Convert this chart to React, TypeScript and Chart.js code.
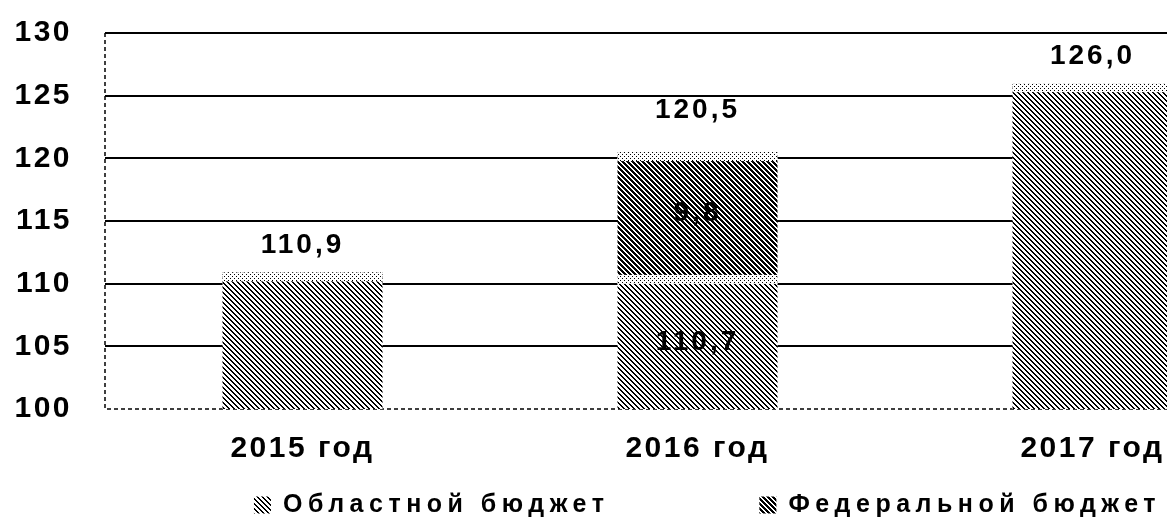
import { useEffect, useRef } from 'react';
import { Chart, registerables } from 'chart.js';

Chart.register(...registerables);

// ---- data ----
const categories: string[] = ['2015 год', '2016 год', '2017 год'];
const regionalValues: number[] = [110.9, 110.7, 126.0];
const federalValues: number[] = [0, 9.8, 0];
const seriesLabels: string[] = ['Областной бюджет', 'Федеральной бюджет'];
const yMin = 100;
const yMax = 130;
const yStep = 5;

const FONT = '"Liberation Sans", Arial, sans-serif';

const fmt = (v: number) => v.toFixed(1).replace('.', ',');

function stripePattern(period: number, ink: number): CanvasPattern {
  const c = document.createElement('canvas');
  c.width = period;
  c.height = period;
  const g = c.getContext('2d')!;
  const img = g.createImageData(period, period);
  for (let y = 0; y < period; y++) {
    for (let x = 0; x < period; x++) {
      const k = (((x - y) % period) + period) % period;
      const v = k < ink ? 0 : 255;
      const i = (y * period + x) * 4;
      img.data[i] = v;
      img.data[i + 1] = v;
      img.data[i + 2] = v;
      img.data[i + 3] = 255;
    }
  }
  g.putImageData(img, 0, 0);
  return g.createPattern(c, 'repeat')!;
}

function dotPattern(): CanvasPattern {
  const n = 4;
  const c = document.createElement('canvas');
  c.width = n;
  c.height = n;
  const g = c.getContext('2d')!;
  g.fillStyle = '#fff';
  g.fillRect(0, 0, n, n);
  g.fillStyle = '#000';
  g.fillRect(0, 0, 1, 1);
  g.fillRect(2, 2, 1, 1);
  return g.createPattern(c, 'repeat')!;
}

const spacingPlugin = {
  id: 'spacing',
  beforeLayout(chart: any) {
    chart.ctx.letterSpacing = '2.5px';
  },
  beforeDraw(chart: any) {
    chart.ctx.letterSpacing = '2.5px';
  },
};

// dashed axis lines (left and bottom edges of the plot area)
const dashedAxesPlugin = {
  id: 'dashedAxes',
  beforeDatasetsDraw(chart: any) {
    const ctx = chart.ctx as CanvasRenderingContext2D;
    const a = chart.chartArea;
    ctx.save();
    ctx.strokeStyle = '#000';
    ctx.lineWidth = 1.5;
    ctx.setLineDash([4, 3]);
    ctx.beginPath();
    ctx.moveTo(a.left, a.top);
    ctx.lineTo(a.left, a.bottom);
    ctx.lineTo(a.right, a.bottom);
    ctx.stroke();
    ctx.restore();
  },
};

function makeBandPlugin(dots: CanvasPattern) {
  return {
    id: 'topBand',
    afterDatasetsDraw(chart: any) {
      const ctx = chart.ctx as CanvasRenderingContext2D;
      const area = chart.chartArea;
      ctx.save();
      ctx.beginPath();
      ctx.rect(area.left, area.top, area.right - area.left, area.bottom - area.top);
      ctx.clip();
      chart.data.datasets.forEach((ds: any, di: number) => {
        const meta = chart.getDatasetMeta(di);
        meta.data.forEach((el: any, i: number) => {
          const v = ds.data[i];
          if (!v) return;
          const top = Math.min(el.y, el.base);
          const h = Math.min(9, Math.abs(el.base - el.y));
          ctx.fillStyle = dots;
          ctx.fillRect(el.x - el.width / 2, top, el.width, h);
        });
      });
      ctx.restore();
    },
  };
}

const labelPlugin = {
  id: 'valueLabels',
  afterDatasetsDraw(chart: any) {
    const ctx = chart.ctx as CanvasRenderingContext2D;
    const area = chart.chartArea;
    const yScale = chart.scales.y;
    ctx.save();
    ctx.font = `bold 28px ${FONT}`;
    (ctx as any).letterSpacing = '3px';
    ctx.fillStyle = '#000';
    ctx.textAlign = 'center';
    ctx.textBaseline = 'middle';
    categories.forEach((_, i) => {
      const segs = chart.data.datasets
        .map((ds: any, di: number) => ({ v: ds.data[i] as number, el: chart.getDatasetMeta(di).data[i] }))
        .filter((s: any) => s.v > 0);
      if (!segs.length) return;
      const total = segs.reduce((a: number, s: any) => a + s.v, 0);
      const x = segs[0].el.x;
      const topY = yScale.getPixelForValue(total);
      const lift = segs.length > 1 ? 42 : 27;
      ctx.fillText(fmt(total), x, topY - lift);
      if (segs.length > 1) {
        segs.forEach((s: any) => {
          const t = Math.max(area.top, Math.min(s.el.y, s.el.base));
          const b = Math.min(area.bottom, Math.max(s.el.y, s.el.base));
          ctx.fillText(fmt(s.v), x, (t + b) / 2);
        });
      }
    });
    ctx.restore();
  },
};

const legendPlugin = {
  id: 'customLegend',
  afterDraw(chart: any) {
    const ctx = chart.ctx as CanvasRenderingContext2D;
    const area = chart.chartArea;
    ctx.save();
    ctx.font = `bold 25px ${FONT}`;
    (ctx as any).letterSpacing = '5.5px';
    ctx.textBaseline = 'middle';
    ctx.textAlign = 'left';
    const box = 17;
    const gapText = 12;
    const gapItems = 150;
    const items = chart.data.datasets.map((ds: any) => ({
      label: ds.label as string,
      fill: ds.backgroundColor,
      w: box + gapText + ctx.measureText(ds.label).width,
    }));
    const total = items.reduce((a: number, it: any) => a + it.w, 0) + gapItems * (items.length - 1);
    let x = (area.left + area.right) / 2 - total / 2 + 10;
    const cy = chart.height - 14;
    items.forEach((it: any) => {
      ctx.fillStyle = it.fill;
      ctx.fillRect(x, cy - box / 2, box, box);
      ctx.fillStyle = '#000';
      ctx.fillText(it.label, x + box + gapText, cy);
      x += it.w + gapItems;
    });
    ctx.restore();
  },
};

export default function App() {
  const ref = useRef<HTMLCanvasElement>(null);

  useEffect(() => {
    const canvas = ref.current!;
    const light = stripePattern(5, 2);
    const dark = stripePattern(5, 3);
    const dots = dotPattern();

    const chart = new Chart(canvas, {
      type: 'bar',
      data: {
        labels: categories,
        datasets: [
          { label: seriesLabels[0], data: regionalValues, backgroundColor: light as any, borderWidth: 0 },
          { label: seriesLabels[1], data: federalValues, backgroundColor: dark as any, borderWidth: 0 },
        ],
      },
      options: {
        responsive: false,
        animation: false,
        devicePixelRatio: 1,
        layout: { padding: { top: 33, right: 10, bottom: 40, left: 0 } },
        datasets: { bar: { categoryPercentage: 1, barPercentage: 0.405 } },
        plugins: {
          legend: { display: false },
          tooltip: { enabled: false },
        },
        scales: {
          x: {
            stacked: true,
            grid: { display: false, drawTicks: false },
            border: { display: false },
            ticks: { color: '#000', font: { family: FONT, size: 30, weight: 'bold' }, padding: 22 },
            afterFit(scale: any) {
              scale.height = 70;
            },
          },
          y: {
            stacked: true,
            min: yMin,
            max: yMax,
            grid: {
              color: (c: any) => (c.tick && c.tick.value === yMin ? 'rgba(0,0,0,0)' : '#000'),
              lineWidth: 2,
              drawTicks: false,
            },
            border: { display: false },
            ticks: {
              stepSize: yStep,
              color: '#000',
              font: { family: FONT, size: 30, weight: 'bold' },
              padding: 33,
            },
            afterFit(scale: any) {
              scale.width = 105;
              scale.paddingTop = 0;
              scale.paddingBottom = 0;
            },
          },
        },
      } as any,
      plugins: [spacingPlugin, dashedAxesPlugin, makeBandPlugin(dots), labelPlugin, legendPlugin],
    });
    return () => chart.destroy();
  }, []);

  return (
    <div
      style={{
        position: 'absolute',
        left: 0,
        top: 0,
        width: 1167,
        height: 519,
        overflow: 'hidden',
        background: '#fff',
      }}
    >
      <canvas ref={ref} width={1300} height={519} style={{ display: 'block' }} />
    </div>
  );
}
